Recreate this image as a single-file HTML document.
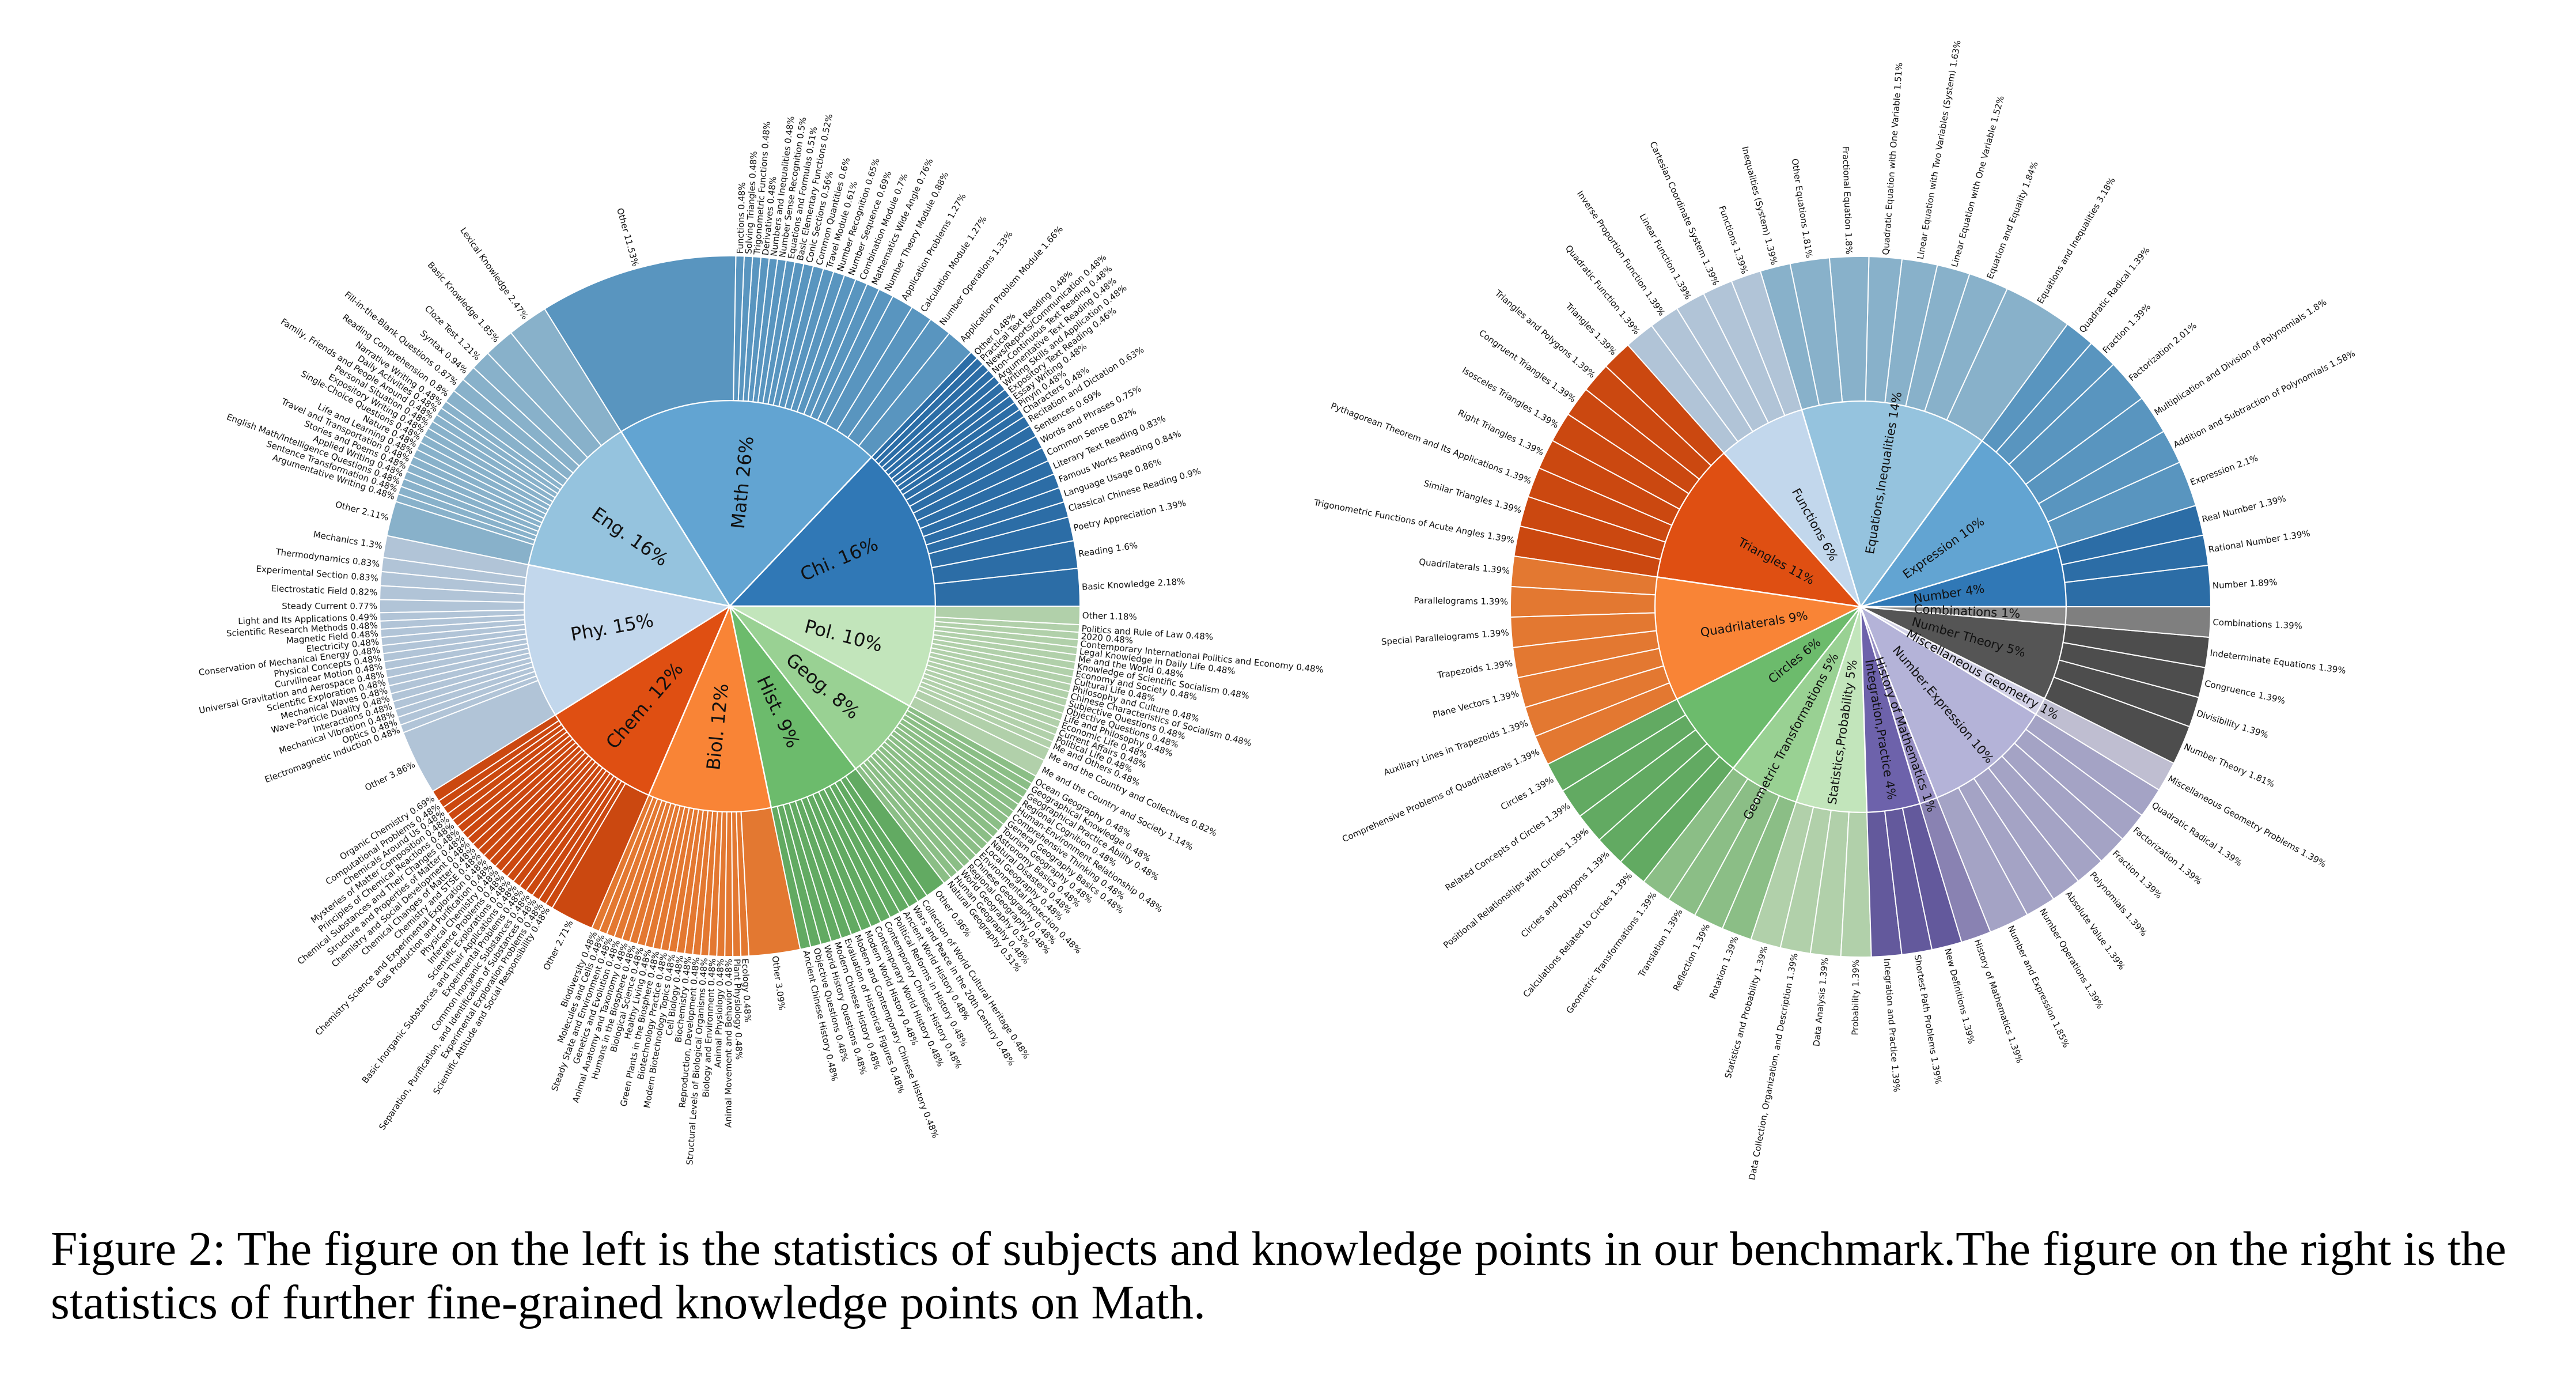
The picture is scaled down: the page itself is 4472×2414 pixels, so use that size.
<!DOCTYPE html>
<html><head><meta charset="utf-8">
<style>
html,body{margin:0;padding:0;background:#fff;}
svg{display:block;}
</style></head>
<body>
<svg id="fig" width="4472" height="2414" viewBox="0 0 4472 2414" xmlns="http://www.w3.org/2000/svg">
  <rect width="4472" height="2414" fill="#fff"/>
  <g id="left"></g>
  <g id="right"></g>
  <g font-family="'Liberation Serif', serif" font-size="84" fill="#000">
    <text x="88" y="2195" textLength="4263" lengthAdjust="spacingAndGlyphs">Figure 2: The figure on the left is the statistics of subjects and knowledge points in our benchmark.The figure on the right is the</text>
    <text x="88" y="2288" textLength="2005" lengthAdjust="spacingAndGlyphs">statistics of further fine-grained knowledge points on Math.</text>
  </g>
</svg>
<script>
// ---------- LEFT CHART DATA ----------
const leftParents = ["Chi. 16%","Math 26%","Eng. 16%","Phy. 15%","Chem. 12%","Biol. 12%","Hist. 9%","Geog. 8%","Pol. 10%"];
const leftParentValues = [16,26,16,15,12,12,9,8,10];
const leftColors = ["#3078b6","#62a4d2","#95c3de","#c2d7ec","#df4f12","#f98436","#6cbb6c","#99d193","#c2e5bb"];
const leftLeafNames = [
 ["Basic Knowledge","Reading","Poetry Appreciation","Classical Chinese Reading","Language Usage","Famous Works Reading","Literary Text Reading","Common Sense","Words and Phrases","Sentences","Recitation and Dictation","Characters","Pinyin","Essay Writing","Expository Text Reading","Writing Skills and Application","Argumentative Text Reading","Non-Continuous Text Reading","News/Reports/Communication","Practical Text Reading","Other"],
 ["Application Problem Module","Number Operations","Calculation Module","Application Problems","Number Theory Module","Mathematics Wide Angle","Combination Module","Number Sequence","Number Recognition","Travel Module","Common Quantities","Conic Sections","Basic Elementary Functions","Equations and Formulas","Number Sense Recognition","Numbers and Inequalities","Derivatives","Trigonometric Functions","Solving Triangles","Functions","Other"],
 ["Lexical Knowledge","Basic Knowledge","Cloze Test","Syntax","Fill-in-the-Blank Questions","Reading Comprehension","Narrative Writing","Daily Activities","Family, Friends and People Around","Personal Situation","Expository Writing","Single-Choice Questions","Nature","Life and Learning","Travel and Transportation","Stories and Poems","Applied Writing","English Math/Intelligence Questions","Sentence Transformation","Argumentative Writing","Other"],
 ["Mechanics","Thermodynamics","Experimental Section","Electrostatic Field","Steady Current","Light and Its Applications","Scientific Research Methods","Magnetic Field","Electricity","Conservation of Mechanical Energy","Physical Concepts","Curvilinear Motion","Universal Gravitation and Aerospace","Scientific Exploration","Mechanical Waves","Wave-Particle Duality","Interactions","Mechanical Vibration","Optics","Electromagnetic Induction","Other"],
 ["Organic Chemistry","Computational Problems","Chemicals Around Us","Mysteries of Matter Composition","Principles of Chemical Reactions","Chemical Substances and Their Changes","Structure and Properties of Matter","Chemistry and Social Development","Chemical Changes of Matter","Chemistry and STSE","Chemistry Science and Experimental Exploration","Gas Production and Purification","Physical Chemistry","Inference Problems","Scientific Explorations","Basic Inorganic Substances and Their Applications","Experimental Problems","Common Inorganic Substances","Separation, Purification, and Identification of Substances","Experimental Exploration Problems","Scientific Attitude and Social Responsibility","Other"],
 ["Biodiversity","Molecules and Cells","Steady State and Environment","Genetics and Evolution","Animal Anatomy and Taxonomy","Humans in the Biosphere","Biological Science","Healthy Living","Green Plants in the Biosphere","Biotechnology Practice","Modern Biotechnology Topics","Cell Biology","Biochemistry","Reproduction, Development","Structural Levels of Biological Organisms","Biology and Environment","Animal Physiology","Animal Movement and Behavior","Plant Physiology","Ecology","Other"],
 ["Ancient Chinese History","Objective Questions","World History Questions","Modern Chinese History","Evaluation of Historical Figures","Modern and Contemporary Chinese History","Modern World History","Contemporary World History","Contemporary Chinese History","Political Reforms in History","Ancient World History","Wars and Peace in the 20th Century","Collection of World Cultural Heritage","Other"],
 ["Natural Geography","Human Geography","World Geography","Regional Geography","Chinese Geography","Environmental Protection","Local Geography","Natural Disasters","Astronomy Basics","Tourism Geography","General Geography Basics","Comprehensive Thinking","Human-Environment Relationship","Regional Cognition","Geographical Practice Ability","Geographical Knowledge","Ocean Geography"],
 ["Me and the Country and Society","Me and the Country and Collectives","Me and Others","Political Life","Current Affairs","Economic Life","Life and Philosophy","Objective Questions","Subjective Questions","Chinese Characteristics of Socialism","Philosophy and Culture","Cultural Life","Economy and Society","Knowledge of Scientific Socialism","Me and the World","Legal Knowledge in Daily Life","Contemporary International Politics and Economy","2020","Politics and Rule of Law","Other"]
];
const leftLeafValues = [
 [2.18,1.6,1.39,0.9,0.86,0.84,0.83,0.82,0.75,0.69,0.63,0.48,0.48,0.48,0.46,0.48,0.48,0.48,0.48,0.48,0.48],
 [1.66,1.33,1.27,1.27,0.88,0.76,0.7,0.69,0.65,0.61,0.6,0.56,0.52,0.51,0.5,0.48,0.48,0.48,0.48,0.48,11.53],
 [2.47,1.85,1.21,0.94,0.87,0.8,0.48,0.48,0.48,0.48,0.48,0.48,0.48,0.48,0.48,0.48,0.48,0.48,0.48,0.48,2.11],
 [1.3,0.83,0.83,0.82,0.77,0.49,0.48,0.48,0.48,0.48,0.48,0.48,0.48,0.48,0.48,0.48,0.48,0.48,0.48,0.48,3.86],
 [0.69,0.48,0.48,0.48,0.48,0.48,0.48,0.48,0.48,0.48,0.48,0.48,0.48,0.48,0.48,0.48,0.48,0.48,0.48,0.48,0.48,2.71],
 [0.48,0.48,0.48,0.48,0.48,0.48,0.48,0.48,0.48,0.48,0.48,0.48,0.48,0.48,0.48,0.48,0.48,0.48,0.48,0.48,3.09],
 [0.48,0.48,0.48,0.48,0.48,0.48,0.48,0.48,0.48,0.48,0.48,0.48,0.48,0.96],
 [0.51,0.48,0.5,0.48,0.48,0.48,0.48,0.48,0.48,0.48,0.48,0.48,0.48,0.48,0.48,0.48,0.48],
 [1.14,0.82,0.48,0.48,0.48,0.48,0.48,0.48,0.48,0.48,0.48,0.48,0.48,0.48,0.48,0.48,0.48,0.48,0.48,1.18]
];

// ---------- RIGHT CHART DATA ----------
const rightParents = ["Number 4%","Expression 10%","Equations,Inequalities 14%","Functions 6%","Triangles 11%","Quadrilaterals  9%","Circles 6%","Geometric Transformations 5%","Statistics,Probability 5%","Integration,Practice 4%","History of Mathematics 1%","Number,Expression 10%","Miscellaneous Geometry 1%","Number Theory 5%","Combinations 1%"];
const rightColors = ["#3078b6","#62a4d2","#95c3de","#c2d7ec","#df4f12","#f98436","#6cbb6c","#99d193","#c2e5bb","#6d62ab","#978fc4","#b4b3d8","#d2d1e6","#555555","#8c8c8c"];
const rightLeafNames = [
 ["Number","Rational Number","Real Number"],
 ["Expression","Addition and Subtraction of Polynomials","Multiplication and Division of Polynomials","Factorization","Fraction","Quadratic Radical"],
 ["Equations and Inequalities","Equation and Equality","Linear Equation with One Variable","Linear Equation with Two Variables (System)","Quadratic Equation with One Variable","Fractional Equation","Other Equations","Inequalities (System)"],
 ["Functions","Cartesian Coordinate System","Linear Function","Inverse Proportion Function","Quadratic Function"],
 ["Triangles","Triangles and Polygons","Congruent Triangles","Isosceles Triangles","Right Triangles","Pythagorean Theorem and Its Applications","Similar Triangles","Trigonometric Functions of Acute Angles"],
 ["Quadrilaterals","Parallelograms","Special Parallelograms","Trapezoids","Plane Vectors","Auxiliary Lines in Trapezoids","Comprehensive Problems of Quadrilaterals"],
 ["Circles","Related Concepts of Circles","Positional Relationships with Circles","Circles and Polygons","Calculations Related to Circles"],
 ["Geometric Transformations","Translation","Reflection","Rotation"],
 ["Statistics and Probability","Data Collection, Organization, and Description","Data Analysis","Probability"],
 ["Integration and Practice","Shortest Path Problems","New Definitions"],
 ["History of Mathematics"],
 ["Number and Expression","Number Operations","Absolute Value","Polynomials","Fraction","Factorization","Quadratic Radical"],
 ["Miscellaneous Geometry Problems"],
 ["Number Theory","Divisibility","Congruence","Indeterminate Equations"],
 ["Combinations"]
];
const rightLeafValues = [
 [1.89,1.39,1.39],
 [2.1,1.58,1.8,2.01,1.39,1.39],
 [3.18,1.84,1.52,1.63,1.51,1.8,1.81,1.39],
 [1.39,1.39,1.39,1.39,1.39],
 [1.39,1.39,1.39,1.39,1.39,1.39,1.39,1.39],
 [1.39,1.39,1.39,1.39,1.39,1.39,1.39],
 [1.39,1.39,1.39,1.39,1.39],
 [1.39,1.39,1.39,1.39],
 [1.39,1.39,1.39,1.39],
 [1.39,1.39,1.39],
 [1.39],
 [1.85,1.39,1.39,1.39,1.39,1.39,1.39],
 [1.39],
 [1.81,1.39,1.39,1.39],
 [1.39]
];

const NS = "http://www.w3.org/2000/svg";
function slug(s){return s.toLowerCase().replace(/[^a-z0-9]+/g,'-').replace(/^-|-$/g,'');}
function darken(hex,f){
  const n=parseInt(hex.slice(1),16);
  const r=Math.round(((n>>16)&255)*f),g=Math.round(((n>>8)&255)*f),b=Math.round((n&255)*f);
  return "rgb("+r+","+g+","+b+")";
}
function pt(cx,cy,r,deg){const a=deg*Math.PI/180;return [cx+r*Math.cos(a), cy-r*Math.sin(a)];}
function arcPath(cx,cy,r0,r1,a0,a1){
  const large=(a1-a0)>180?1:0;
  const p1=pt(cx,cy,r1,a0),p2=pt(cx,cy,r1,a1);
  if(r0<=0){
    return `M${cx},${cy}L${p1[0]},${p1[1]}A${r1},${r1} 0 ${large} 0 ${p2[0]},${p2[1]}Z`;
  }
  const p3=pt(cx,cy,r0,a1),p4=pt(cx,cy,r0,a0);
  return `M${p1[0]},${p1[1]}A${r1},${r1} 0 ${large} 0 ${p2[0]},${p2[1]}L${p3[0]},${p3[1]}A${r0},${r0} 0 ${large} 1 ${p4[0]},${p4[1]}Z`;
}
function radialText(g,cx,cy,r,deg,txt,size,name){
  const p=pt(cx,cy,r,deg);
  let d=((deg%360)+360)%360;
  let rot=-d, anchor="start";
  if(d>90&&d<270){rot=180-d;anchor="end";}
  const t=document.createElementNS(NS,"text");
  t.setAttribute("x",p[0]);t.setAttribute("y",p[1]);
  t.setAttribute("transform",`rotate(${rot} ${p[0]} ${p[1]})`);
  t.setAttribute("text-anchor",anchor);
  t.setAttribute("dominant-baseline","central");
  t.setAttribute("font-size",size);
  t.textContent=txt;
  
  
  g.appendChild(t);
}
function drawSunburst(gid,cx,cy,parents,parentVals,colors,leafNames,leafVals,opt){
  const g=document.getElementById(gid);
  g.setAttribute("font-family","'DejaVu Sans','Liberation Sans',sans-serif");
  g.setAttribute("fill","#111");
  const total=parentVals.reduce((a,b)=>a+b,0);
  let a=0;
  const labels=document.createElementNS(NS,"g");
  parents.forEach((p,i)=>{
    const span=parentVals[i]/total*360;
    const a0=a,a1=a+span;
    const w=document.createElementNS(NS,"path");
    w.setAttribute("d",arcPath(cx,cy,0,opt.r1,a0,a1));
    w.setAttribute("fill",colors[i]);w.setAttribute("stroke","#fff");w.setAttribute("stroke-width","2.5");
    
    
    g.appendChild(w);
    const lsum=leafVals[i].reduce((x,y)=>x+y,0);
    let b=a0;
    const oc=darken(colors[i],0.91);
    leafNames[i].forEach((ln,j)=>{
      const s=leafVals[i][j]/lsum*span;
      const q=document.createElementNS(NS,"path");
      q.setAttribute("d",arcPath(cx,cy,opt.r1,opt.r2,b,b+s));
      q.setAttribute("fill",oc);
      q.setAttribute("stroke","#fff");q.setAttribute("stroke-width","2");
      
      
      g.appendChild(q);
      radialText(labels,cx,cy,opt.r2+4,b+s/2,ln+" "+leafVals[i][j]+"%",opt.leafFont,'leaf-label-'+slug(ln));
      b+=s;
    });
    radialText(labels,cx,cy,opt.innerR,(a0+a1)/2,p,opt.innerFont,'parent-label-'+slug(p));
    a=a1;
  });
  g.appendChild(labels);
}
drawSunburst("left",1267,1052,leftParents,leftParentValues,leftColors,leftLeafNames,leftLeafValues,
  {r1:357,r2:608,innerR:135,innerFont:32,leafFont:15});
const rightParentValues = rightLeafValues.map(v=>v.reduce((x,y)=>x+y,0));
drawSunburst("right",3230,1053,rightParents,rightParentValues,rightColors,rightLeafNames,rightLeafValues,
  {r1:357,r2:608,innerR:93,innerFont:21,leafFont:15});
</script>
</body></html>
